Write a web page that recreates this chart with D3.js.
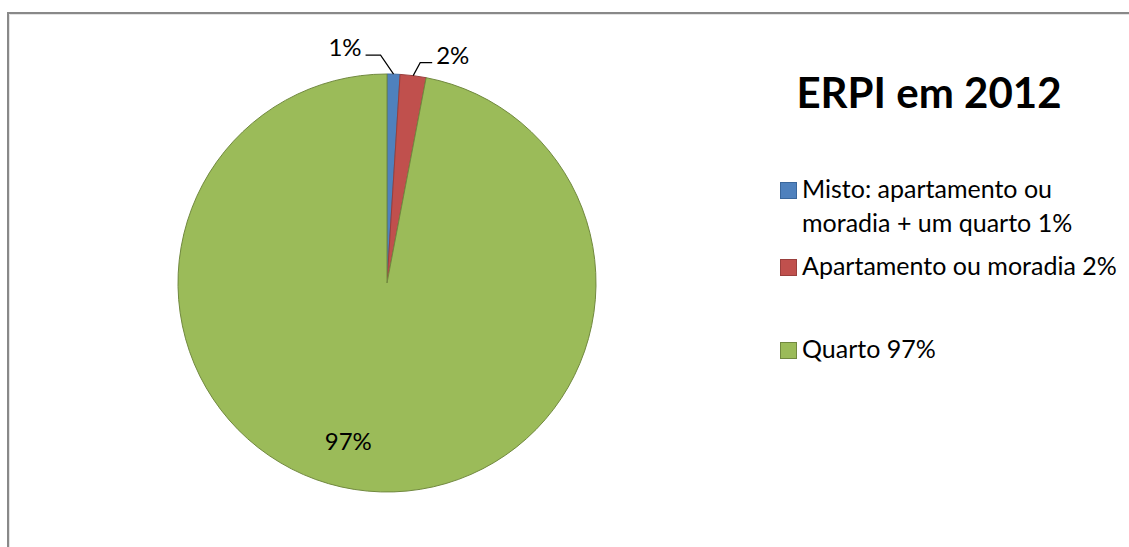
<!DOCTYPE html>
<html>
<head>
<meta charset="utf-8">
<script src="https://cdn.jsdelivr.net/npm/d3@7"></script>
<style>
  html, body { margin: 0; padding: 0; background: #fff; }
  svg { display: block; }
  text { font-family: Lato, "Open Sans", sans-serif; fill: #000; }
</style>
</head>
<body>
<svg id="chart" width="1129" height="547"></svg>
<script>
// Residential structure types (ERPI) in 2012, share of total
const title = "ERPI em 2012";
const categories = ["Misto: apartamento ou moradia + um quarto", "Apartamento ou moradia", "Quarto"];
const legendLines = [["Misto: apartamento ou", "moradia + um quarto 1%"], ["Apartamento ou moradia 2%"], ["Quarto 97%"]];
const values = [1, 2, 97];
const valueLabels = ["1%", "2%", "97%"];
const fills = ["#4F81BD", "#C0504D", "#9BBB59"];
const strokes = ["#3A679C", "#9A3F3D", "#71893F"];

const svg = d3.select("#chart");
const W = 1129, H = 547;

// chart area frame (only top and left edges fall inside the view)
svg.append("path")
  .attr("d", `M8,${H + 2}V13H${W + 2}`)
  .attr("fill", "none").attr("stroke", "#898989").attr("stroke-width", 2);
svg.append("path")
  .attr("d", `M9.5,${H + 2}V14.5H${W + 2}`)
  .attr("fill", "none").attr("stroke", "#e4e4e4").attr("stroke-width", 1);

const cx = 387, cy = 283, R = 209;
const g = svg.append("g").attr("transform", `translate(${cx},${cy})`);

const pie = d3.pie().sort(null).value(d => d);
const arcs = pie(values);
const arc = d3.arc().innerRadius(0).outerRadius(R);

g.selectAll("path.slice").data(arcs).join("path")
  .attr("class", "slice")
  .attr("d", arc)
  .attr("fill", (d, i) => fills[i])
  .attr("stroke", (d, i) => strokes[i])
  .attr("stroke-width", 1)
  .attr("stroke-linejoin", "round");

// point on the rim at a slice's mid-angle
const rim = (d, r) => {
  const a = (d.startAngle + d.endAngle) / 2;
  return [r * Math.sin(a), -r * Math.cos(a)];
};

// outside labels with leader lines for the two thin slices
const outside = [
  { i: 0, elbow: [-13, -19], end: [-28, -19], text: [-32, -18], anchor: "end" },
  { i: 1, elbow: [7, -13], end: [19, -13], text: [23, -12], anchor: "start" }
];
outside.forEach(o => {
  const [x0, y0] = rim(arcs[o.i], R);
  const ex = x0 + o.elbow[0], ey = y0 + o.elbow[1];
  g.append("path")
    .attr("d", `M${x0},${y0}L${ex},${ey}H${x0 + o.end[0]}`)
    .attr("fill", "none").attr("stroke", "#000").attr("stroke-width", 1.2);
  g.append("text")
    .attr("x", x0 + o.text[0]).attr("y", y0 + o.text[1])
    .attr("text-anchor", o.anchor)
    .attr("font-size", 24)
    .text(valueLabels[o.i]);
});

// inside label for the large slice
{
  const [x, y] = rim(arcs[2], R * 0.8);
  g.append("text")
    .attr("x", x - 23).attr("y", y + 1)
    .attr("text-anchor", "middle")
    .attr("font-size", 24)
    .text(valueLabels[2]);
}

// title
svg.append("text")
  .attr("x", 929).attr("y", 108)
  .attr("text-anchor", "middle")
  .attr("font-size", 42).attr("font-weight", 700)
  .text(title);

// legend
const legendRows = [198, 275, 358];
const legend = svg.append("g");
legendLines.forEach((lines, i) => {
  const by = legendRows[i];
  legend.append("rect")
    .attr("x", 780.5).attr("y", by - 15.5)
    .attr("width", 16).attr("height", 16)
    .attr("fill", fills[i]).attr("stroke", strokes[i]).attr("stroke-width", 1);
  const t = legend.append("text").attr("x", 802).attr("y", by).attr("font-size", 25);
  lines.forEach((ln, k) => {
    t.append("tspan").attr("x", 802).attr("dy", k === 0 ? 0 : 34).text(ln);
  });
});
</script>
</body>
</html>
